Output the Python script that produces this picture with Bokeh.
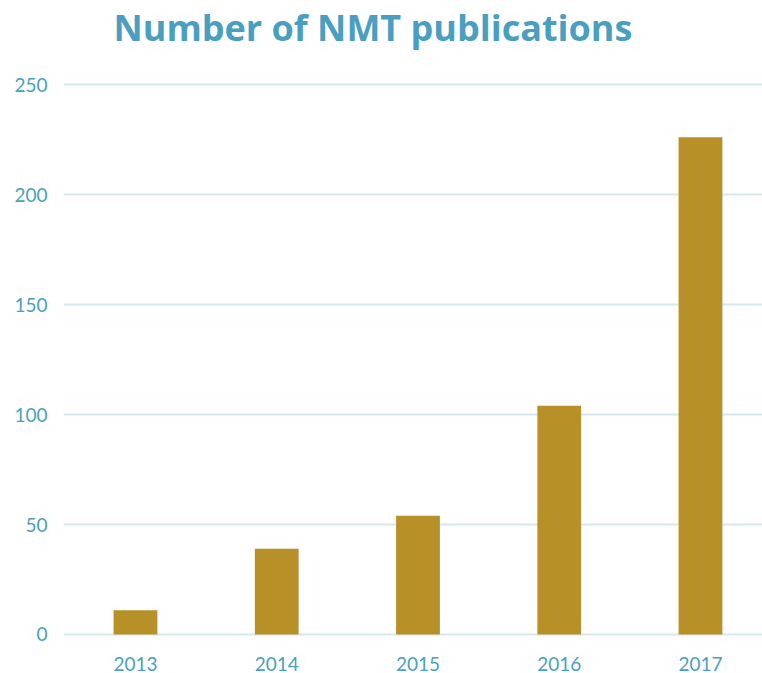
from bokeh.plotting import figure
from bokeh.models import ColumnDataSource, FixedTicker, Range1d, Title
from bokeh.embed import file_html
from bokeh.resources import INLINE

years = ["2013", "2014", "2015", "2016", "2017"]
publications = [11, 39, 54, 104, 226]
y_ticks = [0, 50, 100, 150, 200, 250]

TEAL = "#4a9fc0"
GOLD = "#b89028"
GRID = "#d5e7ef"

xpos = list(range(len(years)))
src = ColumnDataSource(dict(x=xpos, top=publications, year=years))

p = figure(width=762, height=673, output_backend="svg", toolbar_location=None,
           x_range=Range1d(-0.5097, 4.439), y_range=Range1d(-0.91, 255.46),
           min_border_left=63, min_border_right=0, min_border_top=0, min_border_bottom=0)
p.title = None
# spacer between the title and the plot area
p.add_layout(Title(text=" ", text_font_size="10px", standoff=8), "above")
t = Title(text="Number of NMT publications", align="left", offset=50,
          text_font="Open Sans", text_font_style="bold", text_font_size="36px",
          text_color=TEAL, standoff=0)
p.add_layout(t, "above")

p.vbar(x="x", top="top", bottom=0, width=0.31, source=src, color=GOLD, line_color=None)

p.outline_line_color = None
p.xgrid.grid_line_color = None
p.ygrid.grid_line_color = GRID
p.ygrid.grid_line_width = 2
p.yaxis.ticker = FixedTicker(ticks=y_ticks)
p.xaxis.ticker = FixedTicker(ticks=xpos)
p.xaxis.major_label_overrides = {i: y for i, y in zip(xpos, years)}
for ax in (p.xaxis, p.yaxis):
    ax.axis_line_color = None
    ax.major_tick_line_color = None
    ax.minor_tick_line_color = None
    ax.major_tick_out = 0
    ax.major_tick_in = 0
    ax.major_label_text_color = TEAL
    ax.major_label_text_font = "Lato"
    ax.major_label_text_font_size = "19px"
p.yaxis.major_label_standoff = 16
p.xaxis.major_label_standoff = 20

open("out.html", "w").write(file_html(p, INLINE))
